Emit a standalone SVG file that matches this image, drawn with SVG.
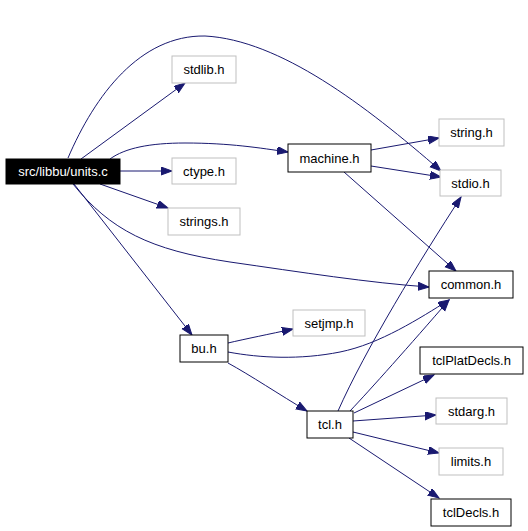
<svg xmlns="http://www.w3.org/2000/svg" width="528" height="531" viewBox="0 0 528 531">
<style>
.n rect{fill:#fff;stroke:#000;stroke-width:1}
.g rect{stroke:#bfbfbf}
text{font-family:"Liberation Sans",Arial,sans-serif;font-size:13px;text-anchor:middle;fill:#000}
#edges path{fill:none;stroke:#191970;stroke-width:1;marker-end:url(#ah)}
</style>
<defs>
<marker id="ah" markerUnits="userSpaceOnUse" markerWidth="12" markerHeight="10" refX="11" refY="4" orient="auto">
<path d="M0,0 L11,4 L0,8 Z" fill="#191970" stroke="#191970"/>
</marker>
</defs>
<rect width="528" height="531" fill="#fff"/>
<g id="edges">
<path d="M81,159 L185,83"/>
<path d="M120,171 L172,171"/>
<path d="M100,184 L168,208"/>
<path d="M68,158 C95,95 140,35 205,36 C280,40 365,105 441,171"/>
<path d="M110,159 C125,148 150,143 185,143 C230,143 260,148 288,152"/>
<path d="M73,184 C110,230 150,250 230,262 C300,272 370,283 429,287"/>
<path d="M74,184 L192,335"/>
<path d="M371,150 L439,138"/>
<path d="M371,166 L441,177"/>
<path d="M344,172 L456,271"/>
<path d="M228,343 C245,339 270,334 293,329"/>
<path d="M228,352 C260,358 300,360 340,352 C380,344 420,318 449,300"/>
<path d="M228,363 C250,375 280,395 307,411"/>
<path d="M338,411 C365,350 420,260 461,197"/>
<path d="M350,411 C370,390 410,345 449,300"/>
<path d="M354,413 L434,375"/>
<path d="M353,421 L436,415"/>
<path d="M353,432 L439,453"/>
<path d="M349,438 L439,498"/>
</g>
<g id="units_c"><rect x="6" y="159" width="114" height="25" fill="#000" stroke="#000"/><text x="63" y="176" style="fill:#fff">src/libbu/units.c</text></g>
<g id="stdlib_h" class="n g"><rect x="172" y="56" width="64" height="27"/><text x="204" y="74">stdlib.h</text></g>
<g id="ctype_h" class="n g"><rect x="172" y="158" width="64" height="26"/><text x="204" y="176">ctype.h</text></g>
<g id="strings_h" class="n g"><rect x="168" y="208" width="72" height="27"/><text x="204" y="226">strings.h</text></g>
<g id="machine_h" class="n"><rect x="288" y="144" width="83" height="28"/><text x="329.5" y="162.5">machine.h</text></g>
<g id="string_h" class="n g"><rect x="439" y="119" width="65" height="27"/><text x="471.5" y="137">string.h</text></g>
<g id="stdio_h" class="n g"><rect x="440" y="170" width="61" height="26"/><text x="470.5" y="188">stdio.h</text></g>
<g id="common_h" class="n"><rect x="429" y="271" width="84" height="27"/><text x="471" y="289">common.h</text></g>
<g id="bu_h" class="n"><rect x="180" y="335" width="48" height="27"/><text x="204" y="353">bu.h</text></g>
<g id="setjmp_h" class="n g"><rect x="293" y="310" width="72" height="26"/><text x="329" y="328">setjmp.h</text></g>
<g id="tclPlatDecls_h" class="n"><rect x="420" y="347" width="103" height="27"/><text x="471.5" y="365">tclPlatDecls.h</text></g>
<g id="stdarg_h" class="n g"><rect x="436" y="398" width="71" height="26"/><text x="471.5" y="416">stdarg.h</text></g>
<g id="tcl_h" class="n"><rect x="307" y="411" width="46" height="27"/><text x="330" y="429">tcl.h</text></g>
<g id="limits_h" class="n g"><rect x="439" y="448" width="64" height="27"/><text x="471" y="466">limits.h</text></g>
<g id="tclDecls_h" class="n"><rect x="431" y="499" width="80" height="27"/><text x="471" y="517">tclDecls.h</text></g>
</svg>
